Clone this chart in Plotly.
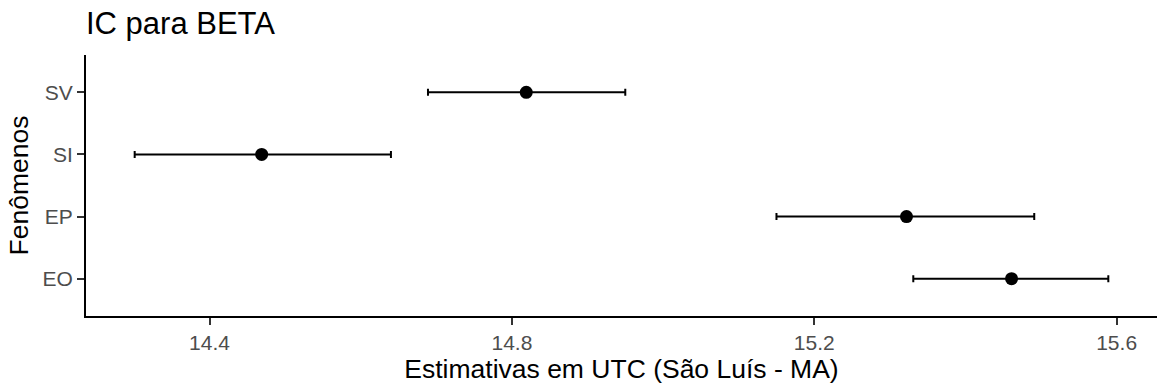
import plotly.graph_objects as go

categorias = ["EO", "EP", "SI", "SV"]
estimativa = [15.461, 15.322, 14.469, 14.819]
limite_inf = [15.331, 15.150, 14.301, 14.689]
limite_sup = [15.589, 15.491, 14.640, 14.950]

x_ticks = [14.4, 14.8, 15.2, 15.6]
x_tick_labels = ["14.4", "14.8", "15.2", "15.6"]

err_plus = [s - e for s, e in zip(limite_sup, estimativa)]
err_minus = [e - i for e, i in zip(estimativa, limite_inf)]

lo, hi = min(limite_inf), max(limite_sup)
pad = 0.05 * (hi - lo)

FONT = "Arial, Liberation Sans, sans-serif"

fig = go.Figure()
fig.add_trace(go.Scatter(
    x=estimativa, y=categorias, mode="markers",
    marker=dict(color="black", size=13),
    error_x=dict(type="data", array=err_plus, arrayminus=err_minus,
                 color="black", thickness=2, width=3.5, symmetric=False),
    showlegend=False, hoverinfo="skip",
))

fig.update_layout(
    width=1158, height=387,
    margin=dict(l=86, r=1, t=55, b=71),
    paper_bgcolor="white", plot_bgcolor="white",
    font=dict(family=FONT, color="black"),
    title=dict(text="IC para BETA", font=dict(size=31, color="black", family=FONT),
               x=0, xref="paper", xanchor="left", y=1 - 23 / 387, yref="container",
               yanchor="middle"),
    xaxis=dict(
        range=[lo - pad, hi + pad],
        tickvals=x_ticks, ticktext=x_tick_labels,
        showline=True, linecolor="black", linewidth=2,
        ticks="outside", ticklen=7, tickwidth=2, tickcolor="#333333",
        tickfont=dict(size=21, color="#4D4D4D", family=FONT),
        showgrid=False, zeroline=False,
        title=dict(text="Estimativas em UTC (São Luís - MA)",
                   font=dict(size=26.5, color="black", family=FONT), standoff=3),
    ),
    yaxis=dict(
        categoryorder="array", categoryarray=categorias,
        range=[-0.6, len(categorias) - 0.4],
        showline=True, linecolor="black", linewidth=2,
        ticks="outside", ticklen=7, tickwidth=2, tickcolor="#333333",
        tickfont=dict(size=21, color="#4D4D4D", family=FONT),
        showgrid=False, zeroline=False,
        title=dict(text="Fenômenos", font=dict(size=26.5, color="black", family=FONT),
                   standoff=6),
    ),
)

fig.write_html("out.html")
